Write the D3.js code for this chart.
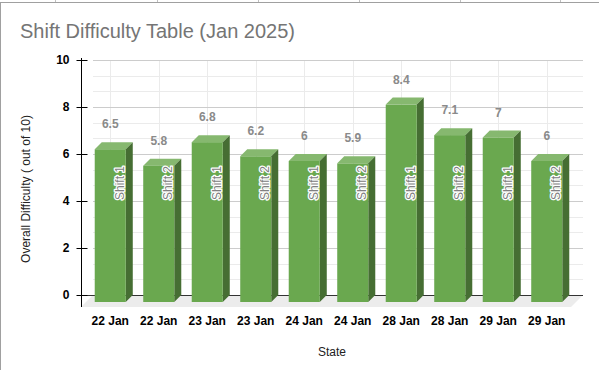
<!DOCTYPE html>
<html lang="en">
<head>
  <meta charset="UTF-8">
  <script src="https://d3js.org/d3.v7.min.js"></script>
  <style>
    body {
      margin: 0;
      background: #fff;
    }

    svg {
      display: block;
      font-family: "Liberation Sans", Arial, sans-serif;
    }

    .grid-major {
      stroke: #cccccc;
      stroke-width: 1;
    }

    .grid-minor {
      stroke: #ebebeb;
      stroke-width: 1;
    }
  </style>
</head>
<body>
  <div id="chart"></div>

  <script>
    // Chart data
    var dates = ["22 Jan", "22 Jan", "23 Jan", "23 Jan", "24 Jan", "24 Jan", "28 Jan", "28 Jan", "29 Jan", "29 Jan"];
    var shifts = ["Shift 1", "Shift 2", "Shift 1", "Shift 2", "Shift 1", "Shift 2", "Shift 1", "Shift 2", "Shift 1", "Shift 2"];
    var difficulty = [6.5, 5.8, 6.8, 6.2, 6, 5.9, 8.4, 7.1, 7, 6];
    var yTicks = [0, 2, 4, 6, 8, 10];

    var width = 599;
    var height = 370;

    var depth = 12;      // back wall offset
    var barFront = 5;    // bar front face offset
    var barBack = 12;    // bar back face offset

    var svg = d3.select("#chart")
      .append("svg")
      .attr("width", width)
      .attr("height", height);

    // spreadsheet behind the chart
    svg.selectAll(".cell")
      .data([55, 157, 258, 359, 460, 560])
      .enter()
      .append("line")
      .attr("x1", function (d) { return d + 0.5; })
      .attr("x2", function (d) { return d + 0.5; })
      .attr("y1", 0)
      .attr("y2", 2)
      .attr("stroke", "#c0c0c0");

    svg.append("line")
      .attr("x1", 0).attr("x2", width)
      .attr("y1", 2.5).attr("y2", 2.5)
      .attr("stroke", "#a0a0a0");

    svg.append("line")
      .attr("x1", 0.5).attr("x2", 0.5)
      .attr("y1", 2).attr("y2", height)
      .attr("stroke", "#a0a0a0");

    // scales on the front plane of the floor
    var x = d3.scaleBand()
      .domain(d3.range(difficulty.length))
      .range([81, 566])
      .paddingInner(0.36)
      .paddingOuter(0.18);

    var y = d3.scaleLinear()
      .domain([0, 10])
      .range([307, 72]);

    var yBack = d3.scaleLinear()
      .domain([0, 10])
      .range([y(0) - depth, y(10) - depth]);

    var left = 81;
    var right = 571;

    // floor
    svg.append("path")
      .attr("d", "M" + left + "," + y(0) +
        "L" + right + "," + y(0) +
        "L" + (right + depth) + "," + (y(0) - depth) +
        "L" + (left + depth) + "," + (y(0) - depth) + "Z")
      .attr("fill", "#ececec");

    // back wall grid
    var minor = d3.range(0, 10.01, 2 / 3).filter(function (v) {
      return Math.abs(v / 2 - Math.round(v / 2)) > 0.01;
    });

    svg.selectAll(".grid-minor")
      .data(minor)
      .enter()
      .append("line")
      .attr("class", "grid-minor")
      .attr("x1", left + depth)
      .attr("x2", right + depth)
      .attr("y1", function (d) { return Math.round(yBack(d)) + 0.5; })
      .attr("y2", function (d) { return Math.round(yBack(d)) + 0.5; });

    svg.selectAll(".grid-v")
      .data(d3.range(difficulty.length))
      .enter()
      .append("line")
      .attr("class", "grid-minor")
      .attr("x1", function (d) { return Math.round(x(d) + x.bandwidth() / 2 + barFront) + 0.5; })
      .attr("x2", function (d) { return Math.round(x(d) + x.bandwidth() / 2 + barFront) + 0.5; })
      .attr("y1", yBack(10))
      .attr("y2", yBack(0));

    svg.selectAll(".grid-major")
      .data(yTicks.slice(1))
      .enter()
      .append("line")
      .attr("class", "grid-major")
      .attr("x1", left + depth)
      .attr("x2", right + depth)
      .attr("y1", function (d) { return Math.round(yBack(d)) + 0.5; })
      .attr("y2", function (d) { return Math.round(yBack(d)) + 0.5; });

    // baseline
    svg.append("line")
      .attr("x1", left)
      .attr("x2", right + depth)
      .attr("y1", Math.round(yBack(0)) + 0.5)
      .attr("y2", Math.round(yBack(0)) + 0.5)
      .attr("stroke", "#333")
      .attr("stroke-width", 1);

    // bars
    var bw = x.bandwidth();
    var bars = svg.selectAll(".bar")
      .data(difficulty)
      .enter()
      .append("g")
      .attr("class", "bar");

    bars.append("path")
      .attr("fill", "#86b86f")
      .attr("d", function (d, i) {
        var x0 = x(i), yv = y(d);
        return "M" + (x0 + barFront) + "," + (yv - barFront) +
          "L" + (x0 + barBack) + "," + (yv - barBack) +
          "L" + (x0 + bw + barBack) + "," + (yv - barBack) +
          "L" + (x0 + bw + barFront) + "," + (yv - barFront) + "Z";
      });

    bars.append("path")
      .attr("fill", "#466e33")
      .attr("d", function (d, i) {
        var x1 = x(i) + bw, yv = y(d), y0 = y(0);
        return "M" + (x1 + barFront) + "," + (yv - barFront) +
          "L" + (x1 + barBack) + "," + (yv - barBack) +
          "L" + (x1 + barBack) + "," + (y0 - barBack) +
          "L" + (x1 + barFront) + "," + (y0 - barFront) + "Z";
      });

    bars.append("rect")
      .attr("fill", "#6aa84f")
      .attr("x", function (d, i) { return x(i) + barFront; })
      .attr("y", function (d) { return y(d) - barFront; })
      .attr("width", bw)
      .attr("height", function (d) { return y(0) - y(d); });

    // value labels
    svg.selectAll(".value")
      .data(difficulty)
      .enter()
      .append("text")
      .attr("class", "value")
      .attr("x", function (d, i) { return x(i) + bw / 2 + barFront; })
      .attr("y", function (d) { return y(d) - 26; })
      .attr("text-anchor", "middle")
      .attr("font-size", 12)
      .attr("font-weight", "bold")
      .attr("fill", "#8a8a8a")
      .text(function (d) { return d; });

    // shift labels inside bars
    svg.selectAll(".shift")
      .data(shifts)
      .enter()
      .append("text")
      .attr("class", "shift")
      .attr("transform", function (d, i) {
        return "translate(" + (x(i) + bw + barFront - 2) + ",183) rotate(-90)";
      })
      .attr("text-anchor", "middle")
      .attr("font-size", 12)
      .attr("fill", "#808080")
      .attr("stroke", "#fff")
      .attr("stroke-width", 2.5)
      .attr("stroke-linejoin", "round")
      .attr("paint-order", "stroke")
      .text(function (d) { return d; });

    // y axis
    var yAxis = d3.axisLeft(yBack)
      .tickValues(yTicks)
      .tickSizeInner(5)
      .tickSizeOuter(0)
      .tickPadding(7);

    var gy = svg.append("g")
      .attr("transform", "translate(81.5,0)")
      .call(yAxis);

    gy.select(".domain").remove();
    gy.selectAll(".tick line")
      .attr("x1", -5)
      .attr("x2", 6)
      .attr("stroke", "#000");
    gy.selectAll(".tick text")
      .attr("font-family", "'Liberation Sans', Arial, sans-serif")
      .attr("font-size", 12)
      .attr("font-weight", "bold")
      .attr("fill", "#000");

    gy.append("line")
      .attr("x1", 0).attr("x2", 0)
      .attr("y1", yBack(10) - 2)
      .attr("y2", y(0))
      .attr("stroke", "#000");

    // x labels
    svg.selectAll(".xlabel")
      .data(dates)
      .enter()
      .append("text")
      .attr("class", "xlabel")
      .attr("x", function (d, i) { return x(i) + bw / 2 + barFront; })
      .attr("y", 325)
      .attr("text-anchor", "middle")
      .attr("font-size", 12)
      .attr("font-weight", "bold")
      .attr("fill", "#000")
      .text(function (d) { return d; });

    // titles
    svg.append("text")
      .attr("x", 20)
      .attr("y", 38)
      .attr("font-size", 20)
      .attr("fill", "#757575")
      .text("Shift Difficulty Table (Jan 2025)");

    svg.append("text")
      .attr("x", 332)
      .attr("y", 356)
      .attr("text-anchor", "middle")
      .attr("font-size", 12)
      .attr("fill", "#222")
      .text("State");

    svg.append("text")
      .attr("transform", "translate(30,189) rotate(-90)")
      .attr("text-anchor", "middle")
      .attr("font-size", 12)
      .attr("fill", "#222")
      .text("Overall Difficulty ( out of 10)");
  </script>
</body>
</html>
